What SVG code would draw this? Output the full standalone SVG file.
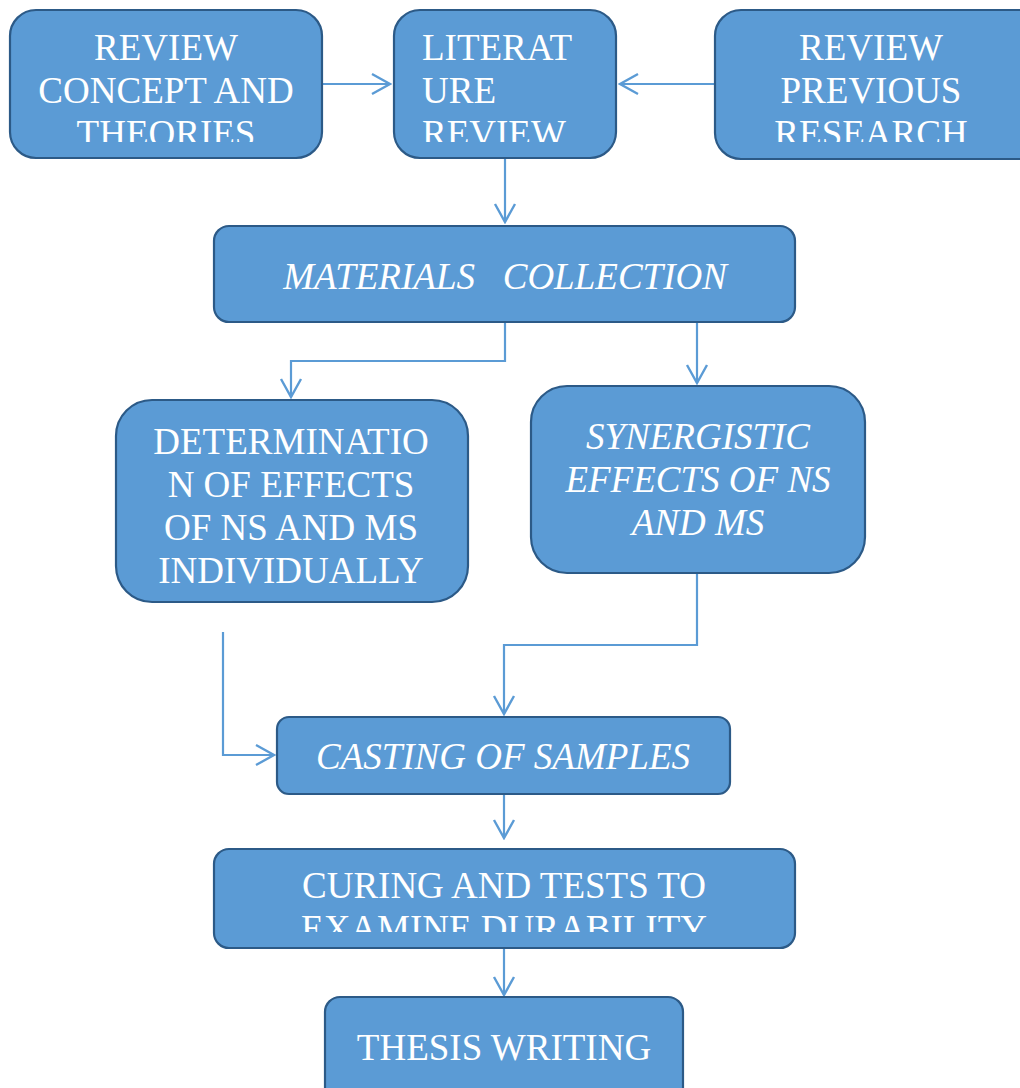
<svg xmlns="http://www.w3.org/2000/svg" width="1020" height="1088" viewBox="0 0 1020 1088">
<style>
.box{fill:#5b9bd5;stroke:#2c5a87;stroke-width:2.2}
.t{font-family:"Liberation Serif","Times New Roman",serif;font-size:37px;fill:#ffffff;text-anchor:middle}
.l{text-anchor:start}
.i{font-style:italic}
.c{fill:none;stroke:#5b9bd5;stroke-width:2.2}
</style>
<defs>
<marker id="arr" viewBox="0 0 22 24" refX="20" refY="12" markerWidth="22" markerHeight="24" markerUnits="userSpaceOnUse" orient="auto">
<path d="M2,2 L20,12 L2,22" fill="none" stroke="#5b9bd5" stroke-width="2.4"/>
</marker>
<clipPath id="cp1"><rect x="10" y="10" width="312" height="132"/></clipPath>
<clipPath id="cp2"><rect x="394" y="10" width="222" height="132"/></clipPath>
<clipPath id="cp3"><rect x="715" y="10" width="305" height="132"/></clipPath>
<clipPath id="cp4"><rect x="214" y="849" width="581" height="83"/></clipPath>
</defs>
<g id="connectors">
<path class="c" d="M322,84 H390" marker-end="url(#arr)"/>
<path class="c" d="M715,84 H620" marker-end="url(#arr)"/>
<path class="c" d="M505,158 V222" marker-end="url(#arr)"/>
<path class="c" d="M505,322 V361 H291 V397" marker-end="url(#arr)"/>
<path class="c" d="M697,322 V383" marker-end="url(#arr)"/>
<path class="c" d="M223,632 V755 H274" marker-end="url(#arr)"/>
<path class="c" d="M697,573 V645 H504 V714" marker-end="url(#arr)"/>
<path class="c" d="M504,794 V838" marker-end="url(#arr)"/>
<path class="c" d="M504,948 V995" marker-end="url(#arr)"/>
</g>
<g id="review-concept">
<rect class="box" x="10" y="10" width="312" height="148" rx="26"/>
<g clip-path="url(#cp1)">
<text class="t" x="166" y="60">REVIEW</text>
<text class="t" x="166" y="103">CONCEPT AND</text>
<text class="t" x="166" y="146">THEORIES</text>
</g>
</g>
<g id="literature-review">
<rect class="box" x="394" y="10" width="222" height="148" rx="26"/>
<g clip-path="url(#cp2)">
<text class="t l" x="422" y="60">LITERAT</text>
<text class="t l" x="422" y="103">URE</text>
<text class="t l" x="422" y="146">REVIEW</text>
</g>
</g>
<g id="review-previous">
<rect class="box" x="715" y="10" width="330" height="149" rx="26"/>
<g clip-path="url(#cp3)">
<text class="t" x="871" y="60">REVIEW</text>
<text class="t" x="871" y="103">PREVIOUS</text>
<text class="t" x="871" y="146">RESEARCH</text>
</g>
</g>
<g id="materials">
<rect class="box" x="214" y="226" width="581" height="96" rx="15"/>
<text class="t i" x="505" y="289" style="white-space:pre" xml:space="preserve">MATERIALS   COLLECTION</text>
</g>
<g id="determination">
<rect class="box" x="116" y="400" width="352" height="202" rx="36"/>
<text class="t" x="291" y="454">DETERMINATIO</text>
<text class="t" x="291" y="497">N OF EFFECTS</text>
<text class="t" x="291" y="540">OF NS AND MS</text>
<text class="t" x="291" y="583">INDIVIDUALLY</text>
</g>
<g id="synergistic">
<rect class="box" x="531" y="386" width="334" height="187" rx="36"/>
<text class="t i" x="698" y="449">SYNERGISTIC</text>
<text class="t i" x="698" y="492">EFFECTS OF NS</text>
<text class="t i" x="698" y="535">AND MS</text>
</g>
<g id="casting">
<rect class="box" x="277" y="717" width="453" height="77" rx="12"/>
<text class="t i" x="503" y="769">CASTING OF SAMPLES</text>
</g>
<g id="curing">
<rect class="box" x="214" y="849" width="581" height="99" rx="15"/>
<g clip-path="url(#cp4)">
<text class="t" x="504" y="898">CURING AND TESTS TO</text>
<text class="t" x="504" y="941">EXAMINE DURABILITY</text>
</g>
</g>
<g id="thesis">
<rect class="box" x="325" y="997" width="358" height="120" rx="15"/>
<text class="t" x="504" y="1060">THESIS WRITING</text>
</g>
</svg>
